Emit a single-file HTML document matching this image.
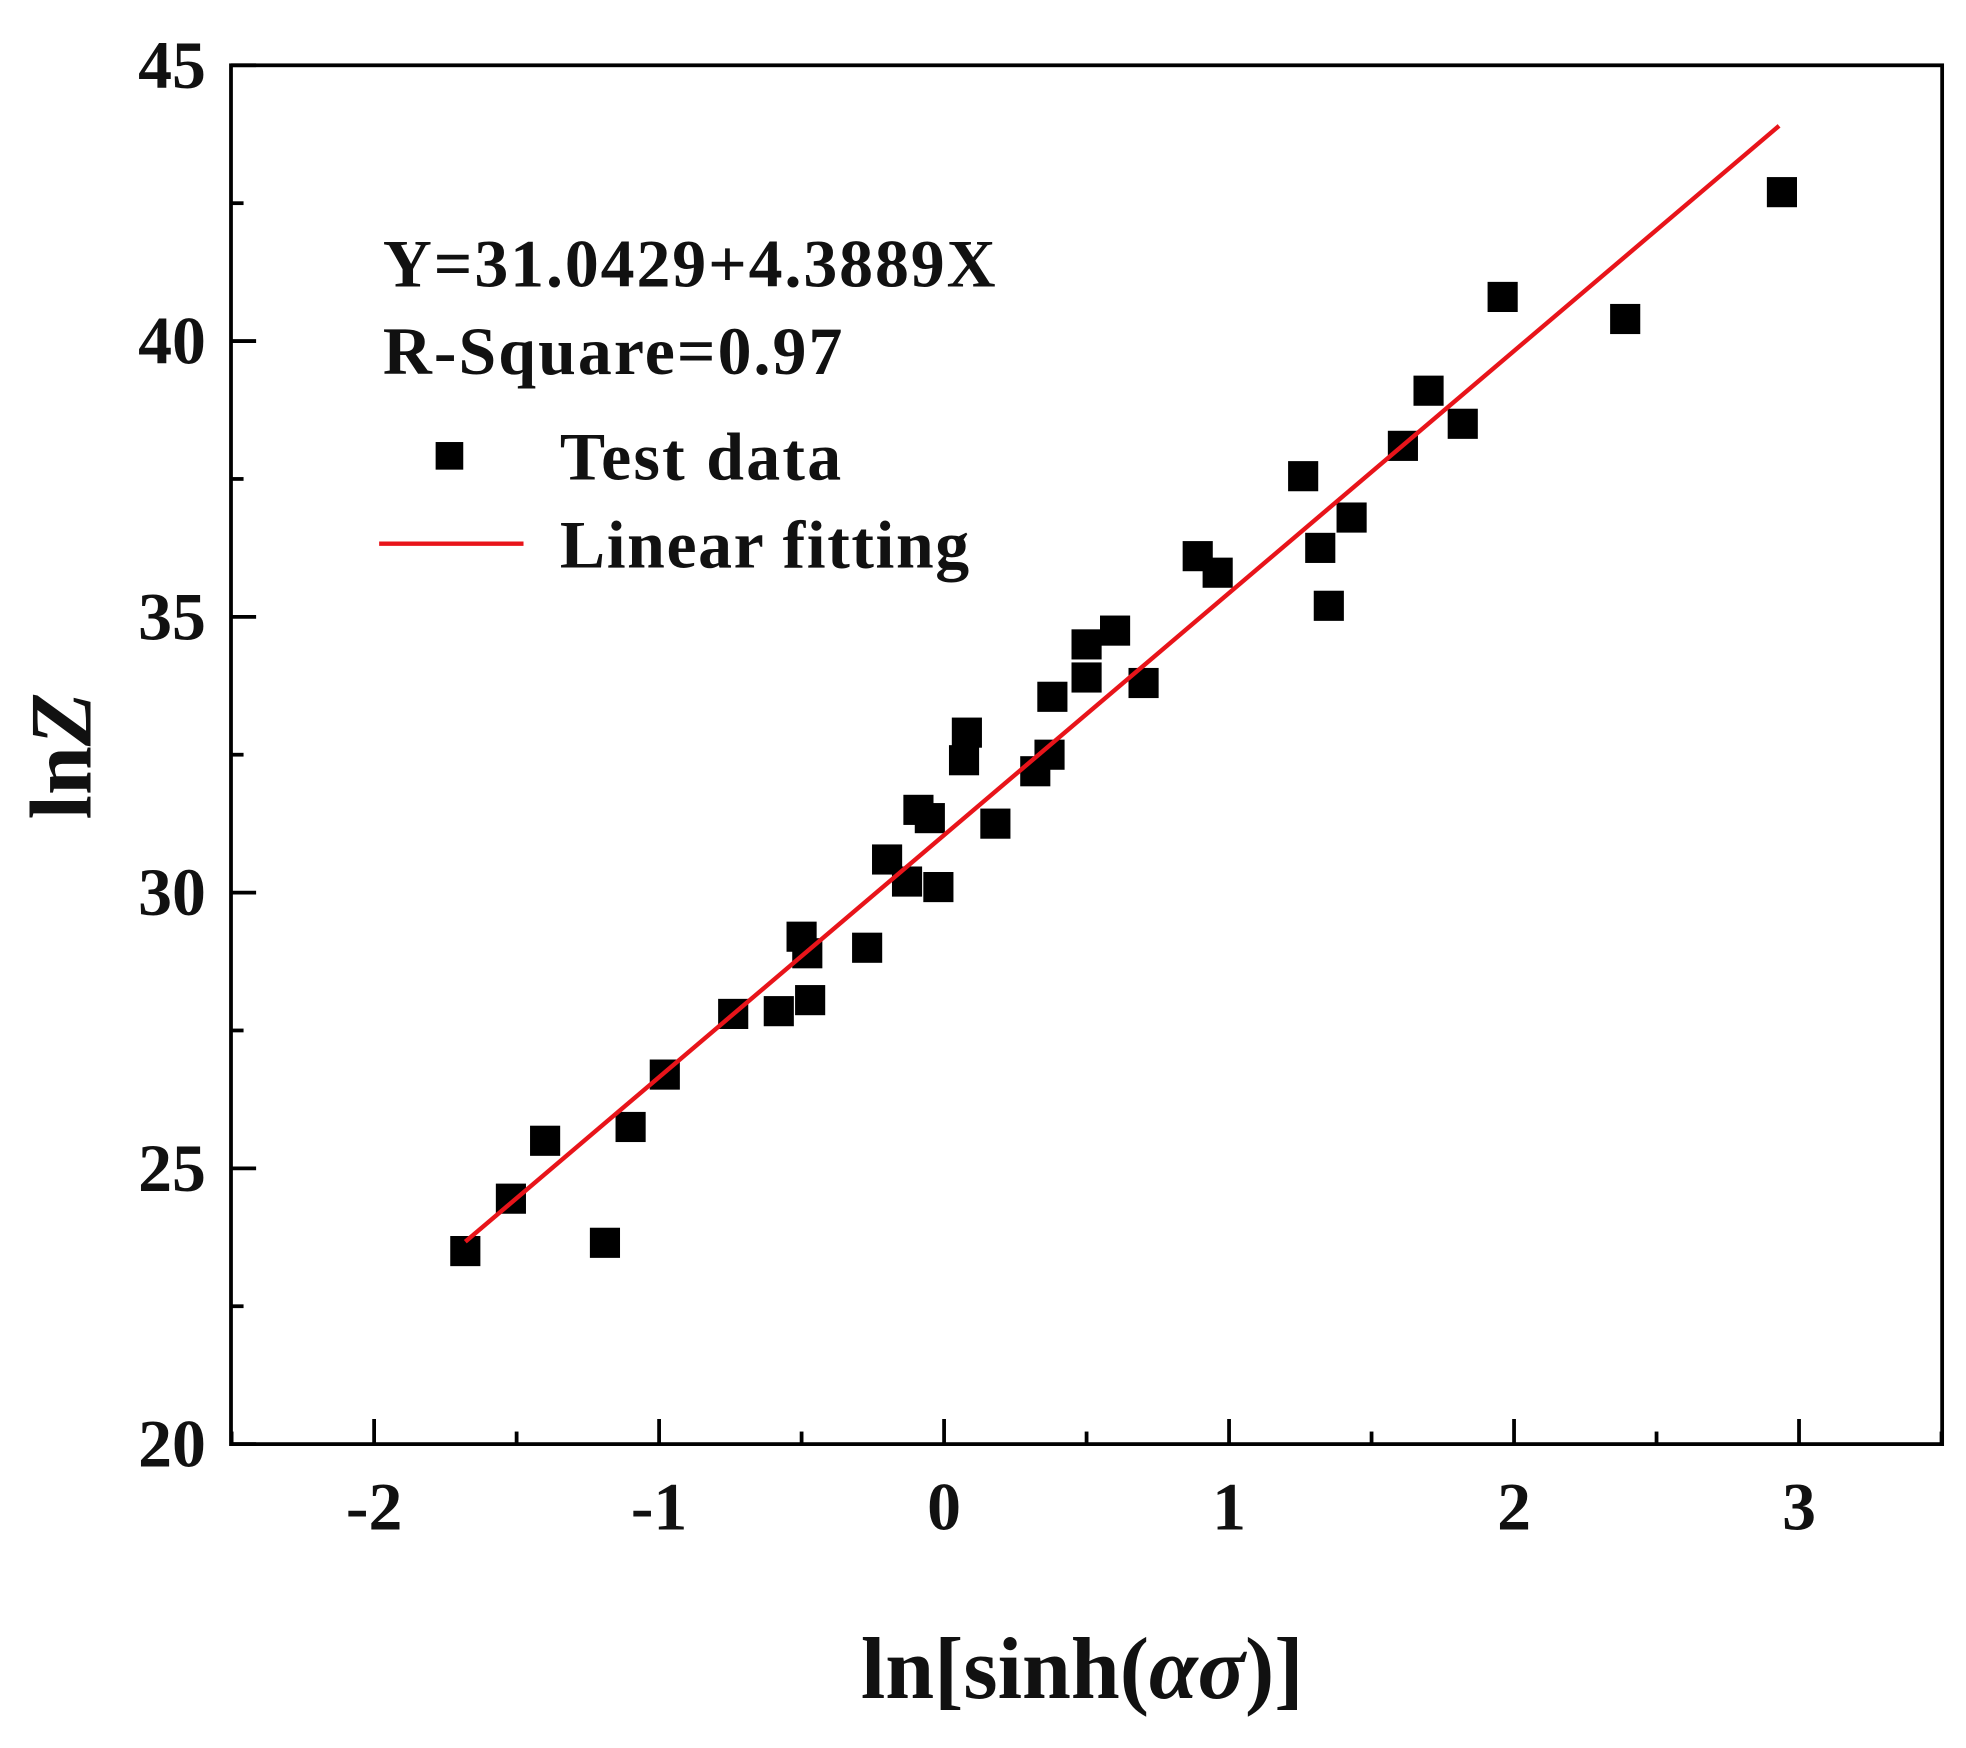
<!DOCTYPE html>
<html><head><meta charset="utf-8"><style>
html,body{margin:0;padding:0;background:#fff;}
svg{display:block;}
text{font-family:"Liberation Serif",serif;font-weight:bold;fill:#111;}
</style></head><body>
<svg id="chart" width="1966" height="1748" viewBox="0 0 1566 1392" preserveAspectRatio="none" xmlns="http://www.w3.org/2000/svg">
<g id="axes"></g>
<g id="marks"></g>
<text x="305" y="228" font-size="54" textLength="488">Y=31.0429+4.3889X</text>
<text x="305" y="298" font-size="54" textLength="366">R-Square=0.97</text>
<rect x="347" y="352" width="22" height="22" fill="#000"/>
<text x="446" y="382" font-size="54" textLength="224">Test data</text>
<line x1="302" y1="433" x2="417" y2="433" stroke="#e8141a" stroke-width="3.5"/>
<text x="446" y="452" font-size="54" textLength="326">Linear fitting</text>
<text x="862" y="1352" font-size="70" text-anchor="middle">ln[sinh(<tspan font-style="italic">ασ</tspan>)]</text>
<text transform="translate(72,602) rotate(-90)" font-size="70" text-anchor="middle">ln<tspan font-style="italic">Z</tspan></text>
</svg>
<script>
const xTicks=[-2,-1,0,1,2,3];
const yTicks=[20,25,30,35,40,45];
const xs=[-1.68,-1.52,-1.4,-1.19,-1.1,-0.98,-0.74,-0.58,-0.5,-0.48,-0.47,-0.27,-0.2,-0.13,-0.09,-0.05,-0.02,0.07,0.08,0.18,0.32,0.37,0.38,0.5,0.5,0.6,0.7,0.89,0.96,1.26,1.32,1.35,1.43,1.61,1.7,1.82,1.96,2.39,2.94];
const ys=[23.5,24.45,25.5,23.65,25.75,26.7,27.8,27.85,29.2,28.9,28.05,29.0,30.6,30.2,31.5,31.35,30.1,32.4,32.9,31.25,32.2,32.5,33.55,34.5,33.9,34.75,33.8,36.1,35.8,37.55,36.25,35.2,36.8,38.1,39.1,38.5,40.8,40.4,42.7];
const fitIntercept=31.0429, fitSlope=4.3889, fitRange=[-1.68,2.93];
const L=184,R=1547,T=52,B=1150;
const X=v=>752+v*227;
const Y=v=>1150-(v-20)*(1098/25);
const NS="http://www.w3.org/2000/svg";
function mk(tag,attrs,parent){const e=document.createElementNS(NS,tag);for(const k in attrs)e.setAttribute(k,attrs[k]);parent.appendChild(e);return e;}
const ax=document.getElementById('axes');
let f=mk('rect',{x:L,y:T,width:R-L,height:B-T,fill:'none',stroke:'#000','stroke-width':3},ax);


xTicks.forEach(t=>{
  let l=mk('line',{x1:X(t),x2:X(t),y1:B,y2:B-20,stroke:'#000','stroke-width':3},ax);
  
  
  let tx=mk('text',{x:X(t),y:B+68,'font-size':54,'text-anchor':'middle'},ax);tx.textContent=t;
  
  
  let m=t+0.5;if(X(m)<R){let ml=mk('line',{x1:X(m),x2:X(m),y1:B,y2:B-10,stroke:'#000','stroke-width':3},ax);
  
  }
});
{let ml=mk('line',{x1:X(-2.5),x2:X(-2.5),y1:B,y2:B-10,stroke:'#000','stroke-width':3},ax);

}
yTicks.forEach(t=>{
  let l=mk('line',{x1:L,x2:L+20,y1:Y(t),y2:Y(t),stroke:'#000','stroke-width':3},ax);
  
  
  let tx=mk('text',{x:L-20,y:Y(t)+18,'font-size':54,'text-anchor':'end'},ax);tx.textContent=t;
  
  
  if(t<45){let ml=mk('line',{x1:L,x2:L+10,y1:Y(t+2.5),y2:Y(t+2.5),stroke:'#000','stroke-width':3},ax);
  
  }
});
const mg=document.getElementById('marks');
xs.forEach((x,i)=>{
  let r=mk('rect',{x:X(x)-12,y:Y(ys[i])-12,width:24,height:24,fill:'#000'},mg);
  
  
});
let fl=mk('line',{x1:X(fitRange[0]),y1:Y(fitIntercept+fitSlope*fitRange[0]),x2:X(fitRange[1]),y2:Y(fitIntercept+fitSlope*fitRange[1]),stroke:'#e8141a','stroke-width':3.5},mg);


</script>
</body></html>
